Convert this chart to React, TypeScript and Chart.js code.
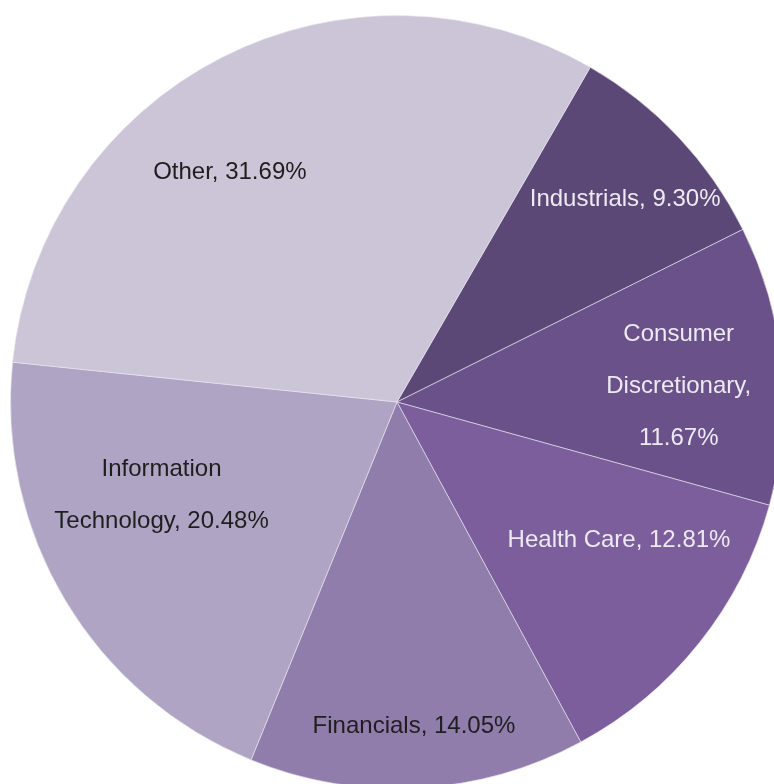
import React, { useEffect, useRef } from "react";
import { Chart, registerables } from "chart.js";

Chart.register(...registerables);

const categories = ["Industrials", "Consumer Discretionary", "Health Care", "Financials", "Information Technology", "Other"];
const shares = [9.30, 11.67, 12.81, 14.05, 20.48, 31.69];
const labelLines = [
  ["Industrials, 9.30%"],
  ["Consumer", "Discretionary,", "11.67%"],
  ["Health Care, 12.81%"],
  ["Financials, 14.05%"],
  ["Information", "Technology, 20.48%"],
  ["Other, 31.69%"],
];
const sliceColors = ["#5C4877", "#6A5189", "#7B5E9B", "#907DAC", "#AFA4C4", "#CCC5D7"];
const labelColors = ["#EEEAF3", "#EEEAF3", "#EEEAF3", "#1E1E1E", "#1E1E1E", "#1E1E1E"];
// label placement: fraction of radius and angular offset (deg) from slice mid-angle
const labelRadius = [0.79, 0.73, 0.677, 0.84, 0.655, 0.735];
const labelAngleOffset = [1.6, 2.3, -6.6, 0.1, 9.4, -9.0];

const labelPlugin = {
  id: "sliceLabels",
  afterDatasetsDraw(chart: any) {
    const ctx = chart.ctx;
    const meta = chart.getDatasetMeta(0);
    ctx.save();
    ctx.font = '24px "Liberation Sans", Arial, sans-serif';
    ctx.textAlign = "center";
    ctx.textBaseline = "middle";
    meta.data.forEach((arc: any, i: number) => {
      const { x, y, startAngle, endAngle, outerRadius } = arc.getProps(["x", "y", "startAngle", "endAngle", "outerRadius"], true);
      const mid = (startAngle + endAngle) / 2 + (labelAngleOffset[i] * Math.PI) / 180;
      const r = outerRadius * labelRadius[i];
      const cx = x + Math.cos(mid) * r;
      const cy = y + Math.sin(mid) * r;
      const lines = labelLines[i];
      const lh = 52;
      ctx.fillStyle = labelColors[i];
      lines.forEach((ln, k) => {
        ctx.fillText(ln, cx, cy + (k - (lines.length - 1) / 2) * lh);
      });
    });
    ctx.restore();
  },
};

export default function App() {
  const ref = useRef<HTMLCanvasElement>(null);
  useEffect(() => {
    if (!ref.current) return;
    const chart = new Chart(ref.current, {
      type: "pie",
      data: {
        labels: categories,
        datasets: [
          {
            data: shares,
            backgroundColor: sliceColors,
            borderColor: "rgba(235,230,242,0.6)",
            borderWidth: 1,
          },
        ],
      },
      options: {
        responsive: false,
        animation: false,
        rotation: 30,
        layout: { padding: 10 },
        plugins: {
          legend: { display: false },
          tooltip: { enabled: false },
        },
      },
      plugins: [labelPlugin],
    });
    return () => chart.destroy();
  }, []);
  return (
    <div style={{ position: "fixed", left: 0, top: 0, width: 774, height: 784, overflow: "hidden", background: "#fff" }}>
      <canvas ref={ref} width={794} height={804} style={{ display: "block" }} />
    </div>
  );
}
